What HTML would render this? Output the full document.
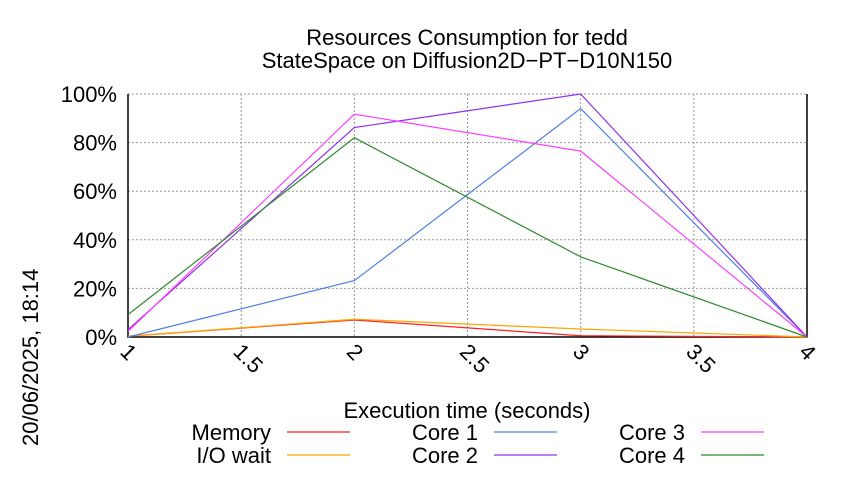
<!DOCTYPE html>
<html><head><meta charset="utf-8"><style>
body{margin:0;background:#fff}
svg text{font-family:"Liberation Sans",sans-serif;fill:#000}
</style></head><body>
<svg id="c" width="850" height="475" viewBox="0 0 850 475">
<text x="467" y="45" font-size="22" text-anchor="middle">Resources Consumption for tedd</text>
<text x="467" y="68" font-size="22" text-anchor="middle">StateSpace on Diffusion2D−PT−D10N150</text>
<text transform="translate(38,446) rotate(-90)" font-size="22" text-anchor="start">20/06/2025, 18:14</text>
<text x="467" y="418" font-size="22" text-anchor="middle">Execution time (seconds)</text>
<g id="grid"></g><g id="series"></g><g id="legend"></g>
</svg>
<script>
const xTicks=[1,1.5,2,2.5,3,3.5,4];
const xTickLabels=["1","1.5","2","2.5","3","3.5","4"];
const yTicks=[0,20,40,60,80,100];
const yTickLabels=["0%","20%","40%","60%","80%","100%"];
const times=[1,2,3,4];
const memory=[0.3,7,0.5,0];
const ioWait=[0.3,7.3,3.3,0];
const core1=[0,23.2,94,0];
const core2=[3,86.2,100,0];
const core3=[2.3,91.7,76.5,0];
const core4=[9.2,82,33,0];
const seriesNames=["Memory","I/O wait","Core 1","Core 2","Core 3","Core 4"];
const NS="http://www.w3.org/2000/svg";
const L=128,R=807,T=94,B=337;
const xs=v=>L+(v-1)/3*(R-L);
const ys=v=>B-v/100*(B-T);
function mk(t,a,p){const e=document.createElementNS(NS,t);for(const k in a)e.setAttribute(k,a[k]);p.appendChild(e);return e;}
const g=document.getElementById('grid');
xTicks.forEach((t,i)=>{
 const l=mk('line',{x1:xs(t),x2:xs(t),y1:T,y2:B,stroke:'#999','stroke-dasharray':'2,2','stroke-width':1},g);
 
 
 const tx=mk('text',{transform:`translate(${xs(t)-9},${B+16}) rotate(45)`,'font-size':22},g);
 tx.textContent=xTickLabels[i];
 
 
});
yTicks.forEach((t,i)=>{
 const l=mk('line',{x1:L,x2:R,y1:ys(t),y2:ys(t),stroke:'#999','stroke-dasharray':'2,2','stroke-width':1},g);
 
 
 const tx=mk('text',{x:L-11,y:ys(t)+8,'font-size':22,'text-anchor':'end'},g);
 tx.textContent=yTickLabels[i];
 
 
});
const ax=mk('path',{d:`M${L},${T}V${B}H${R}V${T}`,fill:'none',stroke:'#000','stroke-width':1.5},g);


const data=[memory,ioWait,core1,core2,core3,core4];
const colors=['#ff2020','#ffa500','#4f7fe8','#9030f0','#ff40ff','#2e8b2e'];
const sg=document.getElementById('series');
data.forEach((d,i)=>{
 const p=mk('polyline',{points:d.map((v,j)=>xs(times[j])+','+ys(v)).join(' '),fill:'none',stroke:colors[i],'stroke-width':1.2},sg);
 
 
});
const lg=document.getElementById('legend');
const cols=[[271,287],[478,494],[685,701]];
seriesNames.forEach((n,i)=>{
 const c=Math.floor(i/2),r=i%2,y=432+r*23;
 const tx=mk('text',{x:cols[c][0],y:y+8,'font-size':22,'text-anchor':'end'},lg);
 tx.textContent=n;
 
 
 const l=mk('line',{x1:cols[c][1],x2:cols[c][1]+63,y1:y,y2:y,stroke:colors[i],'stroke-width':1.2},lg);
 
 
});
</script>
</body></html>
